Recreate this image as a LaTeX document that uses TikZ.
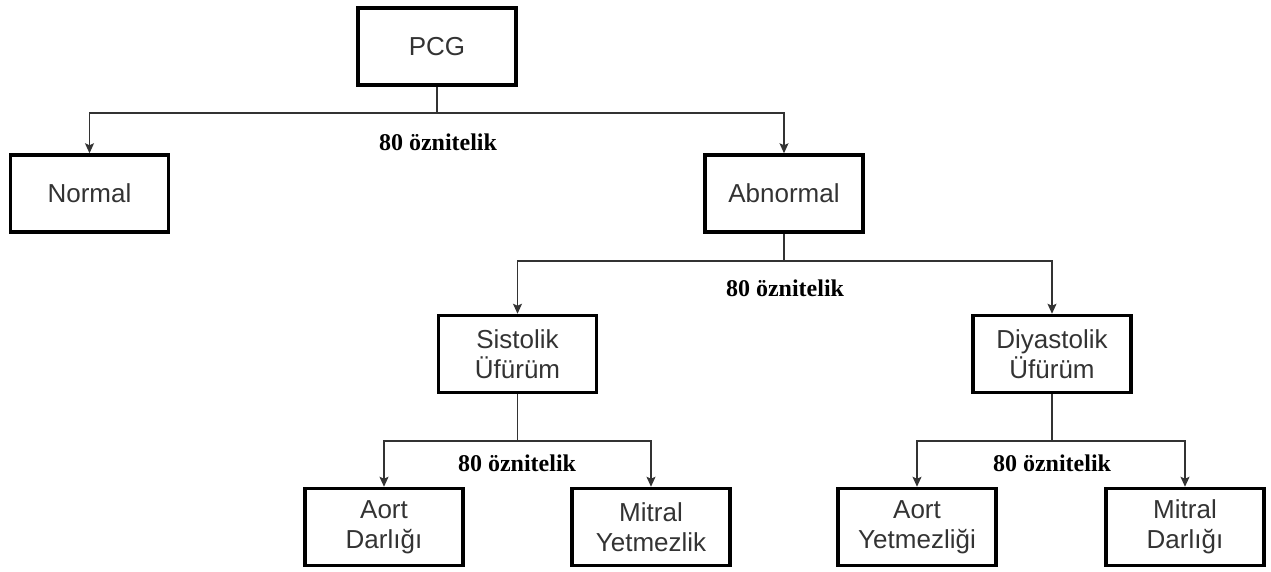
\documentclass[tikz,border=0pt]{standalone}
\usepackage{fontspec}
\setmainfont{Liberation Sans}
\newfontfamily\serifbold{Liberation Serif}[BoldFont={Liberation Serif Bold}]
\usetikzlibrary{arrows.meta}
\definecolor{linegray}{HTML}{333333}
\definecolor{textgray}{HTML}{333333}
\begin{document}
\begin{tikzpicture}[x=1pt, y=-1pt,
  box/.style={draw=black, line width=3.5pt, minimum width=158pt, minimum height=77pt,
    align=center, text=textgray, font=\fontsize{26}{30}\selectfont},
  lbl/.style={font=\serifbold\bfseries\fontsize{24}{28}\selectfont, text=black},
  conn/.style={draw=linegray, line width=1.3pt},
  arr/.style={conn, -{Stealth[length=10pt, width=9pt, inset=2pt]}}]
\useasboundingbox (0,0) rectangle (1271,571);
\node[box] (P_0_0) at (437,46.5) {PCG};
\node[box] (P_1_0) at (89.5,193.5) {Normal};
\node[box] (P_1_1) at (784,193.5) {Abnormal};
\node[box] (P_2_0) at (517.5,354) {Sistolik\\Üfürüm};
\node[box] (P_2_1) at (1052,354) {Diyastolik\\Üfürüm};
\node[box] (P_3_0) at (384,527) {Aort\\Darlığı};
\node[box] (P_3_1) at (651,527) {Mitral\\Yetmezlik};
\node[box] (P_3_2) at (917,527) {Aort\\Yetmezliği};
\node[box] (P_3_3) at (1185,527) {Mitral\\Darlığı};
% branch points
\coordinate (B_0) at (437,113);
\coordinate (B_1) at (784,261);
\coordinate (B_2) at (517.5,441);
\coordinate (B_3) at (1052,441);
\draw[arr] (P_0_0.south) -- (B_0) -| (P_1_0.north);
\draw[arr] (B_0) -| (P_1_1.north);
\node[lbl] (L_0) at (438,142) {80 öznitelik};
\draw[arr] (P_1_1.south) -- (B_1) -| (P_2_0.north);
\draw[arr] (B_1) -| (P_2_1.north);
\node[lbl] (L_1) at (785,288) {80 öznitelik};
\draw[arr] (P_2_0.south) -- (B_2) -| (P_3_0.north);
\draw[arr] (B_2) -| (P_3_1.north);
\node[lbl] (L_2) at (517,463) {80 öznitelik};
\draw[arr] (P_2_1.south) -- (B_3) -| (P_3_2.north);
\draw[arr] (B_3) -| (P_3_3.north);
\node[lbl] (L_3) at (1052,463) {80 öznitelik};
\end{tikzpicture}
\end{document}
